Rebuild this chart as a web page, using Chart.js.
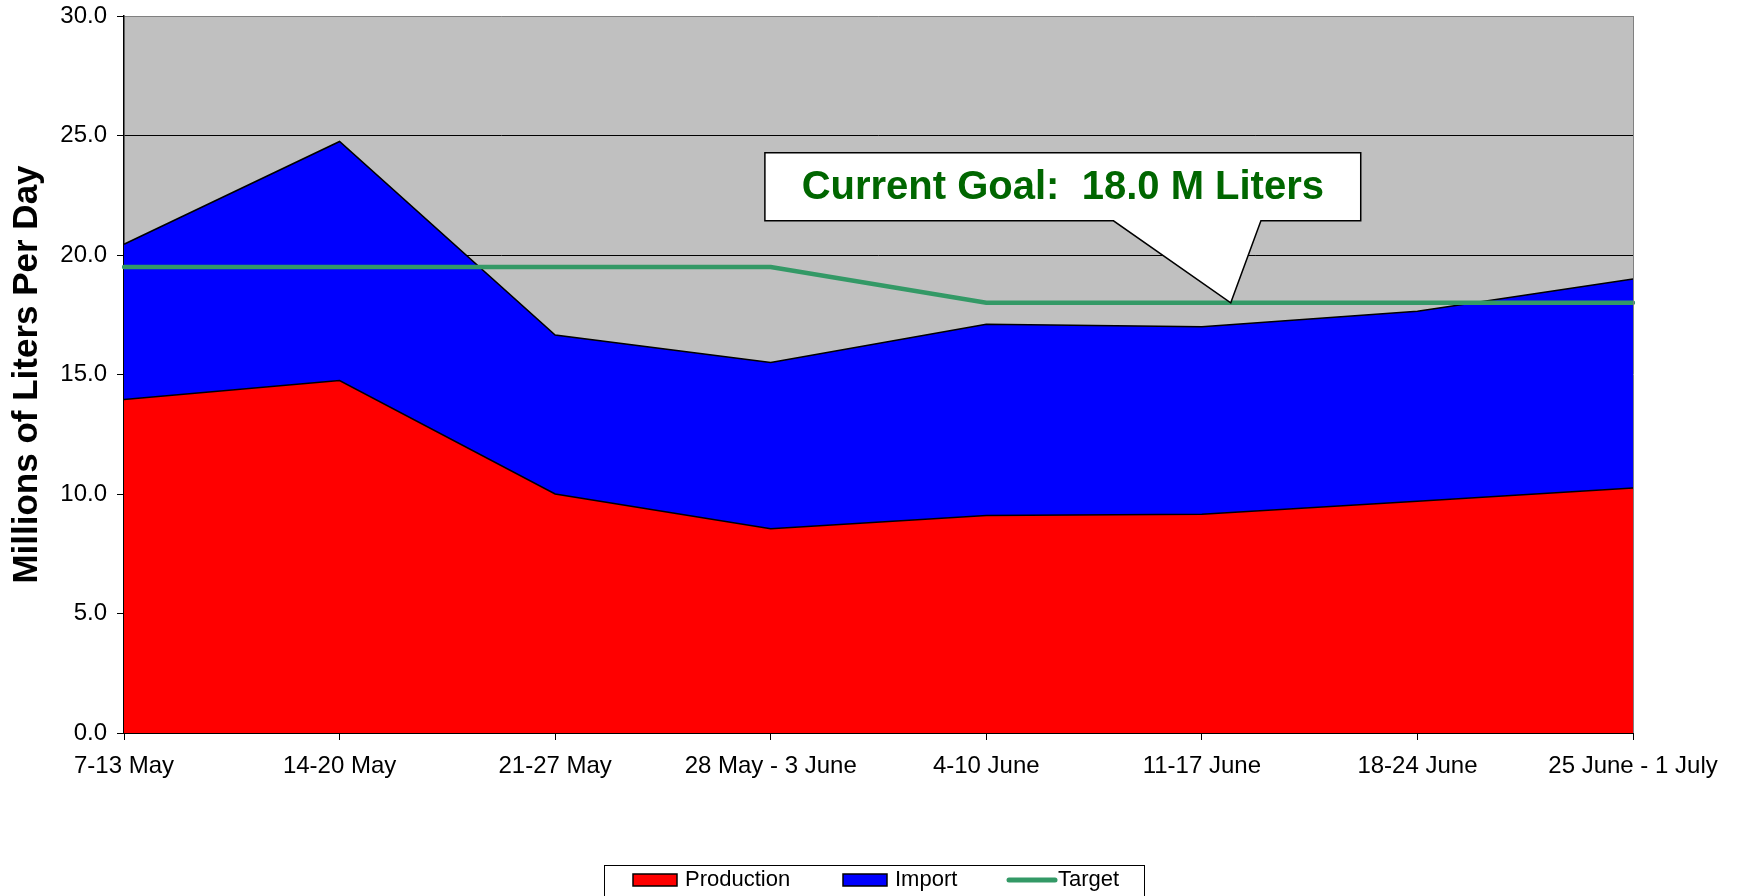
<!DOCTYPE html>
<html>
<head>
<meta charset="utf-8">
<title>Supply vs Target</title>
<script src="https://cdn.jsdelivr.net/npm/chart.js@4/dist/chart.umd.min.js"></script>
<style>
  html, body { margin: 0; padding: 0; background: #fff; }
  canvas { display: block; }
</style>
</head>
<body>
<canvas id="supplyChart" width="1738" height="896"></canvas>
<script>
// ========================
// DATA
// ========================
const weeks = [
  "7-13 May", "14-20 May", "21-27 May", "28 May - 3 June",
  "4-10 June", "11-17 June", "18-24 June", "25 June - 1 July"
];
const production = [13.95, 14.75, 10.0, 8.55, 9.1, 9.15, 9.7, 10.25];
const importVals = [6.5, 10.0, 6.65, 6.95, 8.0, 7.85, 7.95, 8.75];
const target = [19.5, 19.5, 19.5, 19.5, 18.0, 18.0, 18.0, 18.0];
const yTicks = [0, 5, 10, 15, 20, 25, 30];

const calloutText = "Current Goal:  18.0 M Liters";
const FONT = "'Liberation Sans', Arial, Helvetica, sans-serif";

// ========================
// PLUGINS
// ========================
// grey plot background + grey right border
const plotBg = {
  id: "plotBg",
  beforeDraw(chart) {
    const { ctx, chartArea: a } = chart;
    ctx.save();
    ctx.fillStyle = "#fff";
    ctx.fillRect(0, 0, chart.width, chart.height);
    ctx.fillStyle = "#C0C0C0";
    ctx.fillRect(a.left, a.top, a.right - a.left, a.bottom - a.top);
    ctx.restore();
  },
  afterDraw(chart) {
    const { ctx, chartArea: a } = chart;
    ctx.save();
    ctx.strokeStyle = "#808080";
    ctx.lineWidth = 1;
    ctx.beginPath();
    ctx.moveTo(a.right + 0.5, a.top);
    ctx.lineTo(a.right + 0.5, a.bottom);
    ctx.stroke();
    ctx.restore();
  }
};

// speech-bubble callout pointing at the target line
const callout = {
  id: "callout",
  afterDatasetsDraw(chart) {
    const { ctx } = chart;
    const x = chart.scales.x, y = chart.scales.y;
    const left = x.getPixelForValue(2.973), right = x.getPixelForValue(5.737);
    const top = y.getPixelForValue(24.28), bottom = y.getPixelForValue(21.43);
    const baseL = x.getPixelForValue(4.59), baseR = x.getPixelForValue(5.274);
    const tipX = x.getPixelForValue(5.134), tipY = y.getPixelForValue(target[5]);

    ctx.save();
    ctx.beginPath();
    ctx.moveTo(left, top);
    ctx.lineTo(right, top);
    ctx.lineTo(right, bottom);
    ctx.lineTo(baseR, bottom);
    ctx.lineTo(tipX, tipY);
    ctx.lineTo(baseL, bottom);
    ctx.lineTo(left, bottom);
    ctx.closePath();
    ctx.fillStyle = "#fff";
    ctx.fill();
    ctx.strokeStyle = "#000";
    ctx.lineWidth = 1.5;
    ctx.stroke();

    ctx.fillStyle = "#006600";
    ctx.font = "bold 40px " + FONT;
    ctx.textAlign = "center";
    ctx.textBaseline = "middle";
    ctx.fillText(calloutText, (left + right) / 2, (top + bottom) / 2 + 1);
    ctx.restore();
  }
};

// boxed legend at the bottom, like the spreadsheet one
const boxLegend = {
  id: "boxLegend",
  afterDraw(chart) {
    const { ctx } = chart;
    const sets = chart.data.datasets;
    const starts = [633, 843, 1007];
    const midY = 880;

    ctx.save();
    ctx.strokeStyle = "#000";
    ctx.lineWidth = 1;
    ctx.strokeRect(604.5, 865.5, 540, 40);

    ctx.font = "22px " + FONT;
    ctx.textBaseline = "middle";
    ctx.textAlign = "left";
    sets.forEach((ds, i) => {
      const sx = starts[i];
      if (ds.fill) {
        ctx.fillStyle = ds.backgroundColor;
        ctx.fillRect(sx, midY - 6, 44, 12);
        ctx.strokeStyle = "#000";
        ctx.lineWidth = 1.5;
        ctx.strokeRect(sx, midY - 6, 44, 12);
      } else {
        ctx.strokeStyle = ds.borderColor;
        ctx.lineWidth = 5;
        ctx.lineCap = "round";
        ctx.beginPath();
        ctx.moveTo(sx + 2, midY);
        ctx.lineTo(sx + 48, midY);
        ctx.stroke();
      }
      ctx.fillStyle = "#000";
      ctx.fillText(ds.label, sx + (ds.fill ? 52 : 51), midY);
    });
    ctx.restore();
  }
};

// ========================
// CHART
// ========================
const ctx = document.getElementById("supplyChart").getContext("2d");
window.supplyChart = new Chart(ctx, {
  type: "line",
  data: {
    labels: weeks,
    datasets: [
      {
        label: "Production",
        data: production,
        stack: "supply",
        fill: "origin",
        backgroundColor: "#FF0000",
        borderColor: "#000",
        borderWidth: 1.5,
        order: 1
      },
      {
        label: "Import",
        data: importVals,
        stack: "supply",
        fill: "-1",
        backgroundColor: "#0000FF",
        borderColor: "#000",
        borderWidth: 1.5,
        order: 1
      },
      {
        label: "Target",
        data: target,
        stack: "target",
        fill: false,
        borderColor: "#339966",
        borderWidth: 4.5,
        borderCapStyle: "round",
        order: -1
      }
    ]
  },
  options: {
    responsive: false,
    animation: false,
    events: [],
    layout: { padding: { left: 0, top: 16, right: 105, bottom: 0 } },
    elements: {
      point: { radius: 0 },
      line: { tension: 0 }
    },
    plugins: {
      legend: { display: false },
      tooltip: { enabled: false }
    },
    scales: {
      x: {
        offset: false,
        grid: {
          drawOnChartArea: false,
          drawTicks: true,
          tickLength: 7,
          tickColor: "#000"
        },
        border: { color: "#000", width: 2 },
        ticks: {
          color: "#000",
          font: { family: FONT, size: 24 },
          padding: 12,
          maxRotation: 0,
          autoSkip: false
        },
        afterFit(scale) { scale.height = 163; }
      },
      y: {
        stacked: true,
        min: yTicks[0],
        max: yTicks[yTicks.length - 1],
        afterBuildTicks(scale) {
          scale.ticks = yTicks.map(v => ({ value: v }));
        },
        grid: {
          color: c => (c.tick && c.tick.value === 30 ? "#808080" : "#000"),
          lineWidth: 1,
          tickLength: 7,
          tickColor: "#000"
        },
        border: { color: "#000", width: 1.5 },
        ticks: {
          color: "#000",
          font: { family: FONT, size: 24 },
          padding: 10,
          callback: v => Number(v).toFixed(1)
        },
        title: {
          display: true,
          text: "Millions of Liters Per Day",
          color: "#000",
          font: { family: FONT, size: 35, weight: "bold" },
          padding: { top: 6, bottom: 0 }
        },
        afterFit(scale) {
          scale.width = 124;
          scale.paddingTop = 0;
          scale.paddingBottom = 0;
        }
      }
    }
  },
  plugins: [plotBg, callout, boxLegend]
});
</script>
</body>
</html>
